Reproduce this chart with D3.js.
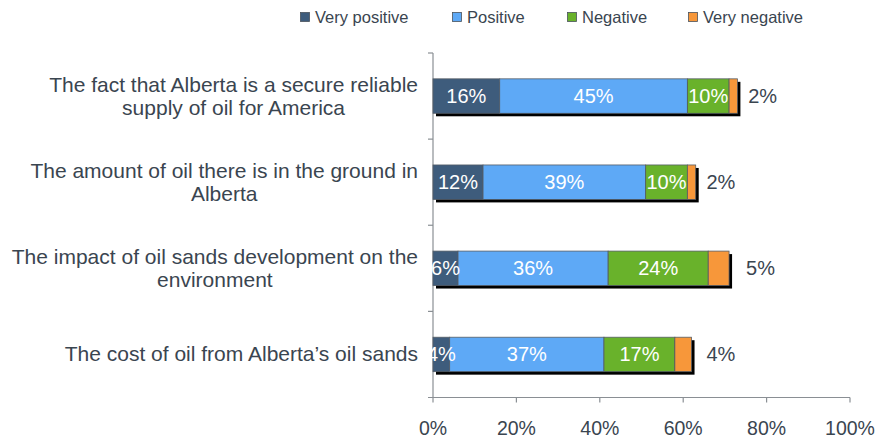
<!DOCTYPE html>
<html>
<head>
<meta charset="utf-8">
<script src="https://cdn.jsdelivr.net/npm/d3@7"></script>
<style>
  body { margin: 0; background: #fff; }
  text { font-family: "Liberation Sans", Arial, sans-serif; }
</style>
</head>
<body>
<script>
const width = 884;
const height = 438;

const categories = [
    ["The fact that Alberta is a secure reliable", "supply of oil for America"],
    ["The amount of oil there is in the ground in", "Alberta"],
    ["The impact of oil sands development on the", "environment"],
    ["The cost of oil from Alberta\u2019s oil sands"]
];
const seriesNames = ["Very positive", "Positive", "Negative", "Very negative"];
const veryPositive = [16, 12, 6, 4];
const positive = [45, 39, 36, 37];
const negative = [10, 10, 24, 17];
const veryNegative = [2, 2, 5, 4];
const xTicks = [0, 0.2, 0.4, 0.6, 0.8, 1];

const colors = ["#3e5c7c", "#5ea9f6", "#69b22b", "#f7973a"];
const textColor = "#3a4550";
const axisColor = "#8a8f94";

const rows = categories.map((c, i) => ({
    key: i,
    label: c,
    values: [veryPositive[i], positive[i], negative[i], veryNegative[i]]
}));

const x = d3.scaleLinear().domain([0, 1]).range([433, 850]);
const y = d3.scaleBand()
    .domain(rows.map(d => d.key))
    .range([53, 397.5])
    .paddingInner(0.6)
    .paddingOuter(0.3);

const svg = d3.select(document.body).append("svg")
    .attr("width", width)
    .attr("height", height);

// legend
const legendX = [300, 452, 567, 688];
const legend = svg.append("g")
    .selectAll("g")
    .data(seriesNames)
    .join("g")
    .attr("transform", (d, i) => `translate(${legendX[i]},0)`);
legend.append("rect")
    .attr("x", 0.5).attr("y", 12.5)
    .attr("width", 9).attr("height", 9)
    .attr("fill", (d, i) => colors[i])
    .attr("stroke", "#4a535c")
    .attr("stroke-width", 0.8);
legend.append("text")
    .attr("x", 15).attr("y", 23)
    .attr("fill", textColor)
    .attr("font-size", 16.5)
    .text(d => d);

// axes
const axisG = svg.append("g").attr("stroke", axisColor).attr("stroke-width", 1.2);
axisG.append("line")
    .attr("x1", x(0)).attr("x2", x(0))
    .attr("y1", y.range()[0]).attr("y2", y.range()[1]);
axisG.append("line")
    .attr("x1", x(0) - 5).attr("x2", x(1))
    .attr("y1", y.range()[1]).attr("y2", y.range()[1]);
const bounds = rows.map(d => y(d.key) - y.step() * y.paddingOuter());
axisG.selectAll(".ytick")
    .data(bounds)
    .join("line")
    .attr("x1", x(0) - 5).attr("x2", x(0))
    .attr("y1", d => d).attr("y2", d => d);
axisG.selectAll(".xtick")
    .data(xTicks)
    .join("line")
    .attr("x1", d => x(d)).attr("x2", d => x(d))
    .attr("y1", y.range()[1]).attr("y2", y.range()[1] + 5);

svg.append("g")
    .selectAll("text")
    .data(xTicks)
    .join("text")
    .attr("x", d => x(d))
    .attr("y", y.range()[1] + 37.5)
    .attr("text-anchor", "middle")
    .attr("font-size", 19.5)
    .attr("fill", textColor)
    .text(d => d3.format(".0%")(d));

// category labels: block right-aligned, lines centred
const labelRight = 418;
const catG = svg.append("g")
    .selectAll("g")
    .data(rows)
    .join("g");
catG.each(function (d) {
    const g = d3.select(this);
    const n = d.label.length;
    const cy = y(d.key) + y.bandwidth() / 2;
    const lineH = 23;
    const t = g.selectAll("text")
        .data(d.label)
        .join("text")
        .attr("font-size", 21)
        .attr("fill", textColor)
        .attr("text-anchor", "middle")
        .attr("y", (l, j) => cy + (j - (n - 1) / 2) * lineH + 7)
        .text(l => l);
    let maxW = 0;
    t.each(function () { maxW = Math.max(maxW, this.getComputedTextLength()); });
    t.attr("x", labelRight - maxW / 2);
});

// bars
const barG = svg.append("g")
    .selectAll("g")
    .data(rows)
    .join("g");

barG.append("rect")
    .attr("x", x(0) + 3)
    .attr("y", d => y(d.key) + 3)
    .attr("width", d => x(d3.sum(d.values) / 100) - x(0))
    .attr("height", y.bandwidth())
    .attr("fill", "#000");

barG.each(function (d) {
    let acc = 0;
    const segs = d.values.map((v, i) => {
        const s = { i, v, x0: acc, x1: acc + v };
        acc += v;
        return s;
    });
    const g = d3.select(this);
    g.selectAll(".seg")
        .data(segs)
        .join("rect")
        .attr("x", s => x(s.x0 / 100))
        .attr("y", y(d.key))
        .attr("width", s => x(s.x1 / 100) - x(s.x0 / 100))
        .attr("height", y.bandwidth())
        .attr("fill", s => colors[s.i])
        .attr("stroke", "#555d66")
        .attr("stroke-width", 0.8);
    g.selectAll(".lbl")
        .data(segs)
        .join("text")
        .attr("x", s => s.i < 3 ? x((s.x0 + s.x1) / 200) : x((s.x1 + s.v / 2) / 100) + 21)
        .attr("y", y(d.key) + y.bandwidth() / 2 + 7)
        .attr("text-anchor", "middle")
        .attr("font-size", 20)
        .attr("fill", s => s.i < 3 ? "#fff" : textColor)
        .text(s => s.v + "%");
});
</script>
</body>
</html>
